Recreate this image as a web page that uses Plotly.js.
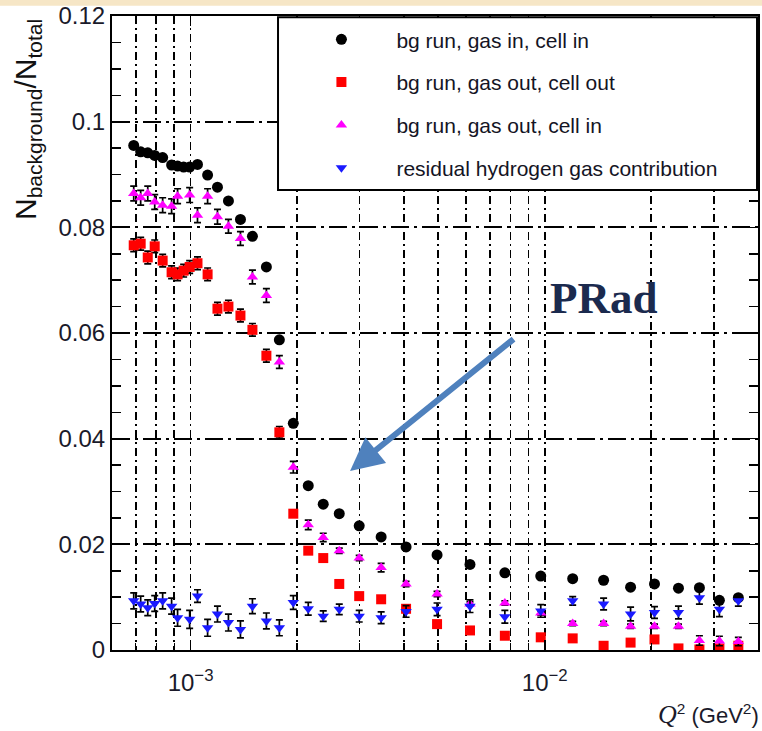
<!DOCTYPE html>
<html>
<head>
<meta charset="utf-8">
<script src="https://cdn.plot.ly/plotly-3.0.1.min.js"></script>
<style>html,body{margin:0;padding:0;background:#fff;}#chart{width:762px;height:731px;}</style>
</head>
<body>
<div id="chart"></div>
<script>
// Q^2 bin centres (GeV^2)
const q2 = [6.91e-4, 7.23e-4, 7.57e-4, 7.92e-4, 8.34e-4, 8.84e-4, 9.19e-4, 9.56e-4, 9.94e-4,
  1.046e-3, 1.117e-3, 1.191e-3, 1.279e-3, 1.383e-3, 1.495e-3, 1.637e-3, 1.781e-3, 1.950e-3,
  2.149e-3, 2.369e-3, 2.629e-3, 2.993e-3, 3.452e-3, 4.059e-3, 4.965e-3, 6.150e-3, 7.715e-3,
  9.743e-3, 1.199e-2, 1.466e-2, 1.747e-2, 2.041e-2, 2.385e-2, 2.733e-2, 3.112e-2, 3.520e-2];

// bg run, gas in, cell in
const gasInCellIn = [0.0955, 0.0943, 0.0941, 0.0936, 0.0932, 0.0918, 0.0916, 0.0914, 0.0914,
  0.0919, 0.0899, 0.0876, 0.0850, 0.0815, 0.0783, 0.0725, 0.0587, 0.0429,
  0.0311, 0.0276, 0.0258, 0.0235, 0.0214, 0.0195, 0.0180, 0.0162, 0.0146,
  0.0140, 0.0135, 0.0132, 0.0119, 0.0125, 0.0117, 0.0118, 0.0094, 0.0099];

// bg run, gas out, cell out
const gasOutCellOut = [0.0766, 0.0769, 0.0743, 0.0764, 0.0737, 0.0715, 0.0711, 0.0718, 0.0725,
  0.0732, 0.0711, 0.0646, 0.0650, 0.0633, 0.0606, 0.0557, 0.0412, 0.0258,
  0.0188, 0.0174, 0.0125, 0.0102, 0.0096, 0.0078, 0.0049, 0.0037, 0.0027,
  0.0024, 0.0022, 0.0008, 0.0014, 0.0020, 0.0003, 0.0001, 0.0003, 0.0008];
const gasOutCellOutErr = [0.0012, 0.0012, 0.0012, 0.0012, 0.0012, 0.0012, 0.0012, 0.0012, 0.0012,
  0.0012, 0.0012, 0.0012, 0.0012, 0.0012, 0.0012, 0.0012, 0.0011, 0,
  0, 0, 0, 0, 0, 0, 0, 0, 0,
  0, 0, 0, 0, 0, 0, 0, 0, 0];

// bg run, gas out, cell in
const gasOutCellIn = [0.0864, 0.0856, 0.0864, 0.0848, 0.0842, 0.0840, 0.0859, null, 0.0861,
  0.0823, 0.0859, 0.0820, 0.0802, 0.0779, 0.0706, 0.0671, 0.0545, 0.0346,
  0.0237, 0.0213, 0.0188, 0.0174, 0.0156, 0.0125, 0.0106, 0.0087, 0.0089,
  0.0070, 0.0050, 0.0050, 0.0045, 0.0045, 0.0045, 0.0018, 0.0017, 0.0016];
const gasOutCellInErr = [0.0014, 0.0014, 0.0014, 0.0014, 0.0014, 0.0014, 0.0014, 0, 0.0014,
  0.0014, 0.0014, 0.0014, 0.0013, 0.0013, 0.0013, 0.0013, 0.0012, 0.0011,
  0.0009, 0.0008, 0.0005, 0.0005, 0.0008, 0.0005, 0.0005, 0.0004, 0.0004,
  0.0004, 0.0004, 0.0004, 0.0004, 0.0004, 0.0004, 0.0009, 0.0009, 0.0008];

// residual hydrogen gas contribution
const residualH = [0.0093, 0.0087, 0.0080, 0.0088, 0.0093, 0.0083, 0.0061, null, 0.0058,
  0.0102, 0.0042, 0.0068, 0.0052, 0.0039, 0.0083, 0.0055, 0.0042, 0.0090,
  0.0078, 0.0064, 0.0077, 0.0064, 0.0061, 0.0073, 0.0077, 0.0083, 0.0063,
  0.0074, 0.0093, 0.0087, 0.0068, 0.0071, 0.0071, 0.0099, 0.0077, 0.0093];
const residualHErr = [0.0015, 0.0015, 0.0015, 0.0015, 0.0015, 0.0015, 0.0016, 0, 0.0017,
  0.0012, 0.0016, 0.0015, 0.0016, 0.0016, 0.0014, 0.0015, 0.0015, 0.0013,
  0.0012, 0.0010, 0.0010, 0.0011, 0.0011, 0.0011, 0.0012, 0.0012, 0.0012,
  0.0012, 0.0008, 0.0011, 0.0013, 0.0011, 0.0012, 0.0012, 0.0014, 0.0010];

const seriesNames = ['bg run, gas in, cell in', 'bg run, gas out, cell out',
  'bg run, gas out, cell in', 'residual hydrogen gas contribution'];

// x tick labels and grid positions
const xTickVals = [1e-3, 1e-2];
const xTickText = ['10<sup>\u22123</sup>', '10<sup>\u22122</sup>'];
const xGridVals = [7e-4, 8e-4, 9e-4, 2e-3, 3e-3, 4e-3, 5e-3, 6e-3, 7e-3, 8e-3, 9e-3, 2e-2, 3e-2];
const yTickVals = [0, 0.02, 0.04, 0.06, 0.08, 0.1, 0.12];
const yTickText = ['0', '0.02', '0.04', '0.06', '0.08', '0.1', '0.12'];

const errStyle = (arr) => ({type: 'data', array: arr, visible: true, color: '#000', thickness: 1.7, width: 3.5});
const font = 'Liberation Sans, Arial, sans-serif';
const xDash = '8px,4px,2px,4px';

const traces = [
  {x: q2, y: gasInCellIn, name: seriesNames[0], type: 'scatter', mode: 'markers', legendgroup: 'a',
   marker: {symbol: 'circle', size: 11, color: '#000'}},
  {x: q2, y: gasOutCellOut, name: seriesNames[1], type: 'scatter', mode: 'markers', legendgroup: 'b',
   error_y: errStyle(gasOutCellOutErr), marker: {symbol: 'square', size: 10, color: '#ff0000'}},
  {x: q2, y: gasOutCellIn, name: seriesNames[2], type: 'scatter', mode: 'markers', legendgroup: 'c',
   error_y: errStyle(gasOutCellInErr), marker: {symbol: 'triangle-up', size: 10, color: '#ff00ff'}},
  {x: q2, y: residualH, name: seriesNames[3], type: 'scatter', mode: 'markers', legendgroup: 'd',
   error_y: errStyle(residualHErr), marker: {symbol: 'triangle-down', size: 10, color: '#1a1aff'}}
];

const layout = {
  width: 762, height: 731,
  margin: {l: 112, r: 4, t: 16, b: 81},
  paper_bgcolor: '#fff', plot_bgcolor: '#fff',
  font: {family: font, color: '#1a1a2a'},
  showlegend: true,
  legend: {x: 0.27, y: 0.995, xanchor: 'left', yanchor: 'top', bgcolor: 'rgba(0,0,0,0)', borderwidth: 0,
    font: {family: font, size: 21, color: '#141424'}, itemwidth: 100, traceorder: 'grouped', tracegroupgap: 12.5},
  xaxis: {
    type: 'log', range: [Math.log10(6e-4), Math.log10(4e-2)],
    tickmode: 'array', tickvals: xTickVals, ticktext: xTickText,
    ticks: 'inside', ticklen: 10, tickwidth: 1.6, tickcolor: '#000',
    minor: {tickmode: 'array', tickvals: xGridVals, ticks: 'inside', ticklen: 7, tickwidth: 1.5, tickcolor: '#000',
      showgrid: true, gridcolor: '#000', gridwidth: 1.8, griddash: xDash},
    showline: true, linecolor: '#000', linewidth: 2, mirror: 'ticks',
    showgrid: true, gridcolor: '#000', gridwidth: 1.8, griddash: xDash,
    zeroline: false, tickfont: {family: font, size: 24, color: '#1a1a2a'}, ticklabelstandoff: 10
  },
  yaxis: {
    range: [0, 0.12], tickmode: 'array', tickvals: yTickVals, ticktext: yTickText,
    ticks: 'inside', ticklen: 16, tickwidth: 1.6, tickcolor: '#000',
    minor: {dtick: 0.005, ticks: 'inside', ticklen: 9, tickwidth: 1.5, tickcolor: '#000', showgrid: false},
    showline: true, linecolor: '#000', linewidth: 2, mirror: 'ticks',
    showgrid: true, gridcolor: '#000', gridwidth: 1.8, griddash: '18px,5px,3px,5px',
    zeroline: false, tickfont: {family: font, size: 24, color: '#1a1a2a'}
  },
  shapes: [
    {type: 'rect', xref: 'paper', yref: 'paper', x0: 0.257, x1: 0.9985, y0: 0.7256, y1: 0.998,
     fillcolor: '#fff', line: {color: '#000', width: 2}, layer: 'above'},
    {type: 'rect', xref: 'paper', yref: 'paper', x0: -0.2, x1: 1.01, y0: 1.016, y1: 1.03,
     fillcolor: '#f6e6c6', line: {width: 0}, layer: 'above'}
  ],
  annotations: [
    {xref: 'paper', yref: 'paper', x: -0.13, y: 0.836, xanchor: 'center', yanchor: 'middle', textangle: -90,
     showarrow: false, text: 'N<sub>background</sub>/N<sub>total</sub>', font: {family: font, size: 30, color: '#111'}},
    {xref: 'paper', yref: 'paper', x: 1.004, y: -0.102, xanchor: 'right', yanchor: 'middle', showarrow: false,
     text: '<span style="font-family:Liberation Serif;font-size:26px"><i>Q</i></span><sup>2</sup> (GeV<sup>2</sup>)',
     font: {family: font, size: 22, color: '#1a1a2a'}},
    {xref: 'x', yref: 'y', x: Math.log10(2.82e-3), y: 0.0339, ax: 165, ay: -133, text: '', showarrow: true,
     arrowhead: 2, arrowsize: 1.1, arrowwidth: 6, arrowcolor: '#4f81bd'},
    {xref: 'paper', yref: 'paper', x: (604 - 112) / 646, y: (650 - 298) / 634, xanchor: 'center', yanchor: 'middle',
     showarrow: false, text: '<b>PRad</b>', font: {family: 'Liberation Serif, Times New Roman, serif', size: 45, color: '#1b2a4e'}}
  ]
};

Plotly.newPlot('chart', traces, layout, {displayModeBar: false, staticPlot: true});
</script>
</body>
</html>
